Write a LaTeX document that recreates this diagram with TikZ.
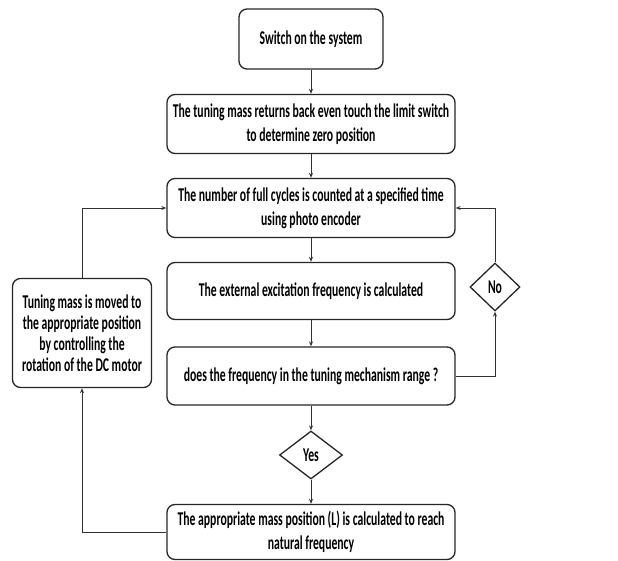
\documentclass[tikz,border=0pt]{standalone}
\usepackage{fontspec}
\setmainfont{Carlito}[FakeStretch=0.6]
\usetikzlibrary{shapes.geometric,arrows.meta}
\tikzset{
	block/.style={draw=black!85, line width=1.3pt, rounded corners=8pt, align=center, inner sep=2pt},
	decision/.style={draw=black!85, line width=1.3pt, diamond, inner sep=0pt, align=center},
	link/.style={draw=black!80, line width=0.9pt, -{Stealth[length=5pt,width=4pt]}}
}
\begin{document}
\begin{tikzpicture}[x=1pt, y=1pt, font=\fontsize{19.5}{24}\selectfont\bfseries]
	\useasboundingbox (0,0) rectangle (618,-561);
	\node[block, minimum width=144, minimum height=60] (sw) at (311,-39) {Switch on the system};
	\node[block, minimum width=288, minimum height=59] (zero) at (311,-124) {The tuning mass returns back even touch the limit switch\\to determine zero position};
	\node[block, minimum width=288, minimum height=59] (count) at (311,-208) {The number of full cycles is counted at a specified time\\using photo encoder};
	\node[block, minimum width=288, minimum height=57] (exc) at (311,-291) {The external excitation frequency is calculated};
	\node[block, minimum width=288, minimum height=58] (chk) at (311,-376) {does the frequency in the tuning mechanism range ?};
	\node[decision, minimum width=63, minimum height=48] (yes) at (311,-455) {Yes};
	\node[block, minimum width=288, minimum height=55] (calc) at (311,-532) {The appropriate mass position (L) is calculated to reach\\natural frequency};
	\node[block, minimum width=139, minimum height=109, font=\fontsize{19.5}{21}\selectfont\bfseries] (mv) at (82,-333) {Tuning mass is moved to\\the appropriate position\\by controlling the\\rotation of the DC motor};
	\node[decision, minimum width=50, minimum height=48] (no) at (495,-287) {No};
	\draw[link] (sw) -- (zero);
	\draw[link] (zero) -- (count);
	\draw[link] (count) -- (exc);
	\draw[link] (exc) -- (chk);
	\draw[link] (chk) -- (yes);
	\draw[link] (yes) -- (calc);
	\draw[link] (chk.east) -| (no.south);
	\draw[link] (no.north) |- (count.east);
	\draw[link] (calc.west) -| (mv.south);
	\draw[link] (mv.north) |- (count.west);
\end{tikzpicture}
\end{document}
